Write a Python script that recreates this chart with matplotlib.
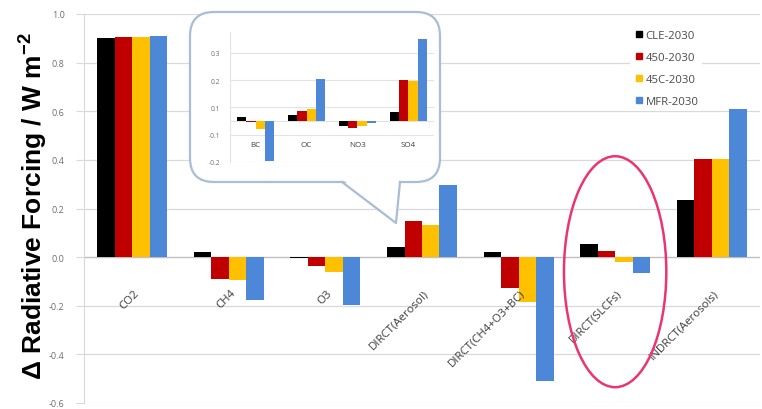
import matplotlib.pyplot as plt
import numpy as np
from matplotlib.patches import Ellipse, FancyBboxPatch, Polygon
from matplotlib.lines import Line2D
from matplotlib.transforms import Affine2D

# Forcing by species, 2030 scenarios (W m-2)
categories = ['CO2', 'CH4', 'O3', 'DIRCT(Aerosol)', 'DIRCT(CH4+O3+BC)',
              'DIRCT(SLCFs)', 'INDRCT(Aerosols)']
scenarios = ['CLE-2030', '450-2030', '45C-2030', 'MFR-2030']
cle = [0.90, 0.02, -0.005, 0.04, 0.023, 0.055, 0.235]
s450 = [0.905, -0.09, -0.035, 0.15, -0.127, 0.026, 0.405]
s45c = [0.905, -0.095, -0.06, 0.133, -0.186, -0.018, 0.405]
mfr = [0.91, -0.175, -0.195, 0.296, -0.51, -0.066, 0.61]

# Aerosol breakdown of the direct effect (inset)
aer_species = ['BC', 'OC', 'NO3', 'SO4']
aer_cle = [0.015, 0.023, -0.02, 0.032]
aer_450 = [-0.005, 0.035, -0.027, 0.15]
aer_45c = [-0.03, 0.044, -0.017, 0.148]
aer_mfr = [-0.146, 0.154, -0.008, 0.30]
inset_ticks = [-0.15, -0.05, 0.05, 0.15, 0.25]
inset_ticklabels = ['-0.2', '-0.1', '0.1', '0.2', '0.3']

colors = ['#000000', '#c00000', '#ffc000', '#4d88d8']
grid_c = '#d9d9d9'

plt.rcParams['font.family'] = ['Open Sans', 'DejaVu Sans']
plt.rcParams['mathtext.fontset'] = 'custom'
plt.rcParams['mathtext.rm'] = 'Liberation Sans'
plt.rcParams['mathtext.bf'] = 'Liberation Sans:bold'

W, H = 762, 410
fig = plt.figure(figsize=(W / 100, H / 100), dpi=100)
# pixel coordinates measured from the top-left corner
pix = Affine2D().scale(1 / 100, -1 / 100).translate(0, H / 100) + fig.dpi_scale_trans

ax = fig.add_axes([84 / W, 1 - 404 / H, 676 / W, 389 / H])
x = np.arange(len(categories))
bw = 0.181
for k, vals in enumerate([cle, s450, s45c, mfr]):
    ax.bar(x + (k - 1.5) * bw, vals, bw, color=colors[k], label=scenarios[k], zorder=3)

ax.set_xlim(-0.5, len(categories) - 0.5)
ax.set_ylim(-0.6, 1.0)
ax.set_yticks(np.arange(-0.6, 1.01, 0.2))
ax.set_yticklabels([f'{v:.1f}' for v in np.arange(-0.6, 1.01, 0.2)])
ax.set_xticks([])
ax.grid(axis='y', color=grid_c, lw=0.9, zorder=0)
ax.axhline(0, color='#bfbfbf', lw=0.9, zorder=2)
for s in ['top', 'right', 'bottom']:
    ax.spines[s].set_visible(False)
ax.spines['left'].set_color(grid_c)
ax.tick_params(axis='y', length=6, color=grid_c, labelsize=6.5, labelcolor='#6d6d6d', pad=8)

for i, name in enumerate(categories):
    ax.text(i + 0.05, -0.14, name, rotation=45, rotation_mode='anchor',
            ha='right', va='center', fontsize=8.2, color='#3a3a3a')

handles = [Line2D([], [], ls='none', marker='s', markersize=5, color=c) for c in colors]
leg = ax.legend(handles, scenarios, loc='upper left', bbox_to_anchor=(624 / W, 1 - 22 / H),
                bbox_transform=fig.transFigure, frameon=True, fontsize=8.2, labelspacing=0.97,
                handletextpad=0.1, handlelength=1.0, borderpad=0.3)
leg.get_frame().set_edgecolor('none')
leg.get_frame().set_facecolor('white')
leg.get_frame().set_alpha(1)
for t in leg.get_texts():
    t.set_color('#4a4a4a')

ax.add_patch(Ellipse((5, -0.06), 1.06, 0.95, fill=False, edgecolor='#ea3474', lw=1.8,
                     zorder=6, clip_on=False))

fig.text(33 / W, 1 - 206 / H, r'Δ Radiative Forcing / W m$^{\mathbf{-2}}$', rotation=90,
         ha='center', va='center', fontsize=19, fontweight='bold',
         family=['Liberation Sans', 'DejaVu Sans'])

# callout box holding the inset
box = FancyBboxPatch((190, 13), 250, 170, boxstyle='round,pad=0,rounding_size=24',
                     transform=pix, facecolor='white', edgecolor='#a9bdd6', lw=1.6, zorder=3)
fig.add_artist(box)
fig.add_artist(Polygon([(343, 181), (399, 181), (396, 223)], closed=True, transform=pix,
                       facecolor='white', edgecolor='none', zorder=4))
fig.add_artist(Line2D([342, 396, 400], [183, 224, 183], transform=pix,
                      color='#a9bdd6', lw=1.6, zorder=4))

iax = fig.add_axes([230 / W, 1 - 163 / H, 204 / W, 130 / H], zorder=5)
iax.patch.set_visible(False)
xi = np.arange(len(aer_species))
ibw = 0.18
for k, vals in enumerate([aer_cle, aer_450, aer_45c, aer_mfr]):
    iax.bar(xi + (k - 1.5) * ibw, vals, ibw, color=colors[k], zorder=3)
iax.set_xlim(-0.5, len(aer_species) - 0.5)
iax.set_ylim(-0.15, 0.326)
iax.set_yticks(inset_ticks)
iax.set_yticklabels(inset_ticklabels)
iax.set_xticks([])
iax.grid(axis='y', color='#e3e3e3', lw=0.8, zorder=0)
iax.axhline(0, color='#e3e3e3', lw=0.8, zorder=2)
for s in ['top', 'right', 'bottom']:
    iax.spines[s].set_visible(False)
iax.spines['left'].set_color('#e3e3e3')
iax.tick_params(axis='y', length=0, labelsize=4.8, labelcolor='#6d6d6d', pad=7)
for i, name in enumerate(aer_species):
    iax.text(i, -0.085, name, ha='center', va='center', fontsize=5.8, color='#404040')

fig.savefig('out.png', dpi=100)
